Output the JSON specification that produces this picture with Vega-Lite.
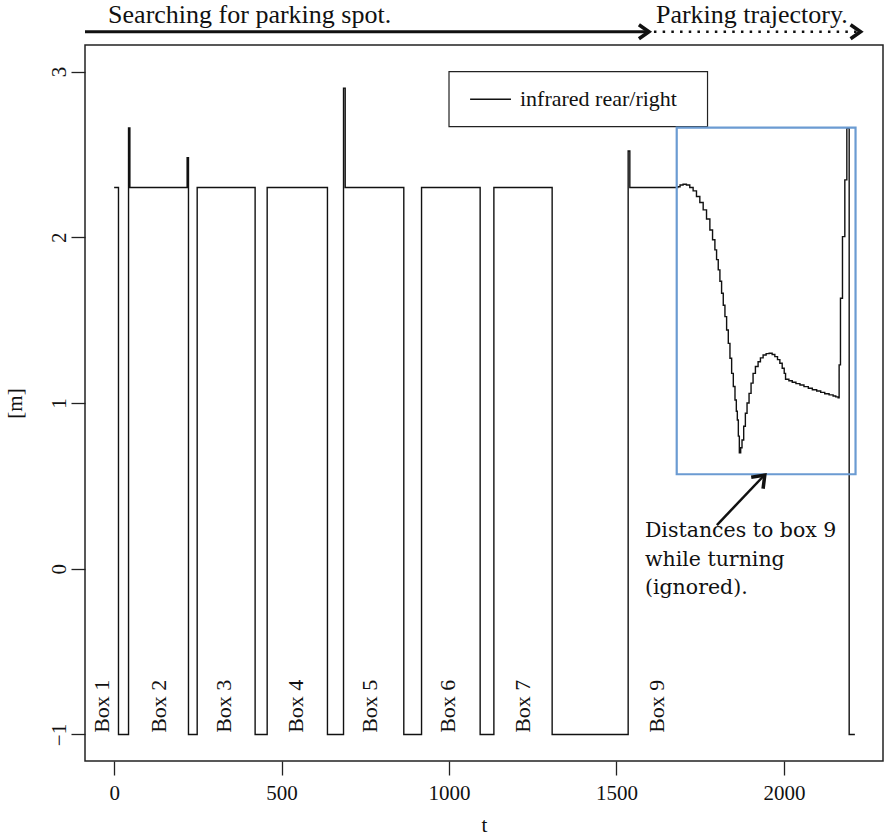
{
  "$schema": "https://vega.github.io/schema/vega-lite/v6.json",
  "width": 798,
  "height": 716,
  "autosize": {"type": "none"},
  "padding": {"left": 85, "top": 45, "right": 2, "bottom": 78},
  "background": "white",
  "config": {
    "view": {"stroke": "#222", "strokeWidth": 1.5},
    "axis": {
      "domain": false, "grid": false, "tickColor": "#222", "tickSize": 14, "tickWidth": 1.3,
      "labelFont": "Liberation Serif", "labelFontSize": 21, "labelColor": "#111", "labelFlush": false,
      "titleFont": "Liberation Serif", "titleFontSize": 21, "titleColor": "#111", "titleFontWeight": "normal"
    },
    "axisX": {"labelPadding": 7, "titleY": 70, "titleBaseline": "alphabetic"},
    "axisY": {"labelAngle": -90, "labelAlign": "center", "labelBaseline": "middle", "labelPadding": 12,
      "titleX": -70, "titleY": 358, "titleAngle": -90, "titleBaseline": "middle", "titleAlign": "center"}
  },
  "layer": [
    {
      "data": {"values": [
        {"t":0,"v":2.3},{"t":13,"v":-1},{"t":43,"v":2.66},{"t":47,"v":2.3},{"t":218,"v":2.48},{"t":222,"v":-1},
        {"t":248,"v":2.3},{"t":421,"v":-1},{"t":457,"v":2.3},{"t":637,"v":-1},{"t":685,"v":2.9},{"t":690,"v":2.3},
        {"t":865,"v":-1},{"t":918,"v":2.3},{"t":1093,"v":-1},{"t":1134,"v":2.3},{"t":1308,"v":-1},{"t":1535,"v":2.52},
        {"t":1540,"v":2.3},{"t":1683,"v":2.305},{"t":1690,"v":2.315},{"t":1699,"v":2.32},{"t":1709,"v":2.315},
        {"t":1719,"v":2.3},{"t":1729,"v":2.28},{"t":1739,"v":2.246},{"t":1749,"v":2.21},{"t":1759,"v":2.165},
        {"t":1769,"v":2.11},{"t":1779,"v":2.044},{"t":1787,"v":1.985},{"t":1794,"v":1.924},{"t":1799,"v":1.865},
        {"t":1804,"v":1.803},{"t":1809,"v":1.735},{"t":1814,"v":1.662},{"t":1819,"v":1.59},{"t":1824,"v":1.521},
        {"t":1829,"v":1.44},{"t":1834,"v":1.36},{"t":1839,"v":1.27},{"t":1844,"v":1.179},{"t":1849,"v":1.1},
        {"t":1854,"v":1.018},{"t":1858,"v":0.95},{"t":1861,"v":0.897},{"t":1864,"v":0.8},{"t":1867,"v":0.7},
        {"t":1871,"v":0.73},{"t":1875,"v":0.777},{"t":1880,"v":0.86},{"t":1885,"v":0.938},{"t":1890,"v":1.0},
        {"t":1896,"v":1.058},{"t":1902,"v":1.12},{"t":1908,"v":1.179},{"t":1915,"v":1.22},{"t":1923,"v":1.249},
        {"t":1930,"v":1.272},{"t":1938,"v":1.29},{"t":1947,"v":1.298},{"t":1956,"v":1.3},{"t":1965,"v":1.293},
        {"t":1973,"v":1.28},{"t":1981,"v":1.262},{"t":1988,"v":1.24},{"t":1995,"v":1.21},{"t":2001,"v":1.179},
        {"t":2005,"v":1.143},{"t":2015,"v":1.134},{"t":2025,"v":1.125},{"t":2036,"v":1.117},{"t":2048,"v":1.109},
        {"t":2060,"v":1.099},{"t":2073,"v":1.089},{"t":2085,"v":1.08},{"t":2098,"v":1.072},{"t":2110,"v":1.064},
        {"t":2122,"v":1.056},{"t":2135,"v":1.049},{"t":2147,"v":1.042},{"t":2155,"v":1.037},{"t":2162,"v":1.032},
        {"t":2165,"v":1.23},{"t":2169,"v":1.632},{"t":2175,"v":2.004},{"t":2182,"v":2.346},{"t":2188,"v":2.658},
        {"t":2195,"v":-1},{"t":2212,"v":-1}
      ]},
      "mark": {"type": "line", "interpolate": "step-after", "color": "#111", "strokeWidth": 1.4},
      "encoding": {
        "x": {"field": "t", "type": "quantitative", "sort": null,
          "scale": {"domain": [-87, 2296], "nice": false, "zero": false},
          "axis": {"values": [0, 500, 1000, 1500, 2000], "format": "d", "title": "t"}},
        "y": {"field": "v", "type": "quantitative",
          "scale": {"domain": [-1.16, 3.16], "nice": false, "zero": false},
          "axis": {"values": [-1, 0, 1, 2, 3], "format": "d", "title": "[m]"}}
      }
    },
    {
      "data": {"values": [{"t": 1000, "t2": 1772, "v": 2.999, "v2": 2.667}]},
      "mark": {"type": "rect", "fill": "white", "stroke": "#222", "strokeWidth": 1.2},
      "encoding": {
        "x": {"field": "t", "type": "quantitative"}, "x2": {"field": "t2"},
        "y": {"field": "v", "type": "quantitative"}, "y2": {"field": "v2"}
      }
    },
    {
      "data": {"values": [{"t": 1063, "t2": 1185, "v": 2.833}]},
      "mark": {"type": "rule", "color": "#111", "strokeWidth": 1.4},
      "encoding": {
        "x": {"field": "t", "type": "quantitative"}, "x2": {"field": "t2"},
        "y": {"field": "v", "type": "quantitative"}
      }
    },
    {
      "data": {"values": [{"t": 1212, "v": 2.833, "label": "infrared rear/right"}]},
      "mark": {"type": "text", "align": "left", "baseline": "middle", "font": "Liberation Serif", "fontSize": 22, "color": "#111"},
      "encoding": {
        "x": {"field": "t", "type": "quantitative"},
        "y": {"field": "v", "type": "quantitative"},
        "text": {"field": "label"}
      }
    },
    {
      "data": {"values": [{"t": 1680, "t2": 2214, "v": 2.662, "v2": 0.57}]},
      "mark": {"type": "rect", "fill": null, "fillOpacity": 0, "stroke": "#6b9bd2", "strokeWidth": 2.2},
      "encoding": {
        "x": {"field": "t", "type": "quantitative"}, "x2": {"field": "t2"},
        "y": {"field": "v", "type": "quantitative"}, "y2": {"field": "v2"}
      }
    },
    {
      "data": {"values": [
        {"t": -37, "v": -0.99, "label": "Box 1"}, {"t": 135, "v": -0.99, "label": "Box 2"},
        {"t": 329, "v": -0.99, "label": "Box 3"}, {"t": 543, "v": -0.99, "label": "Box 4"},
        {"t": 764, "v": -0.99, "label": "Box 5"}, {"t": 998, "v": -0.99, "label": "Box 6"},
        {"t": 1222, "v": -0.99, "label": "Box 7"}, {"t": 1620, "v": -0.99, "label": "Box 9"}
      ]},
      "mark": {"type": "text", "angle": 270, "align": "left", "baseline": "middle", "font": "Liberation Serif", "fontSize": 22, "color": "#111"},
      "encoding": {
        "x": {"field": "t", "type": "quantitative"},
        "y": {"field": "v", "type": "quantitative"},
        "text": {"field": "label"}
      }
    },
    {
      "data": {"values": [
        {"t": 1585, "v": 0.2275, "label": "Distances to box 9"},
        {"t": 1585, "v": 0.0555, "label": "while turning"},
        {"t": 1585, "v": -0.1165, "label": "(ignored)."}
      ]},
      "mark": {"type": "text", "align": "left", "baseline": "middle", "font": "DejaVu Serif", "fontSize": 20.5, "color": "#111"},
      "encoding": {
        "x": {"field": "t", "type": "quantitative"},
        "y": {"field": "v", "type": "quantitative"},
        "text": {"field": "label"}
      }
    },
    {
      "data": {"values": [{"t": 1800, "t2": 1940, "v": 0.2635, "v2": 0.561}]},
      "mark": {"type": "rule", "color": "#111", "strokeWidth": 2.5},
      "encoding": {
        "x": {"field": "t", "type": "quantitative"}, "x2": {"field": "t2"},
        "y": {"field": "v", "type": "quantitative"}, "y2": {"field": "v2"}
      }
    },
    {
      "data": {"values": [{"t": 1943, "v": 0.565}]},
      "mark": {"type": "point", "shape": "M-1,-0.75L0,0L-1,0.75", "filled": false, "stroke": "#111", "strokeWidth": 3.5, "strokeJoin": "miter", "size": 484, "angle": 314, "opacity": 1},
      "encoding": {
        "x": {"field": "t", "type": "quantitative"},
        "y": {"field": "v", "type": "quantitative"}
      }
    },
    {
      "data": {"values": [{"t": -87, "t2": 1594, "v": 3.24}]},
      "mark": {"type": "rule", "color": "#111", "strokeWidth": 3},
      "encoding": {
        "x": {"field": "t", "type": "quantitative"}, "x2": {"field": "t2"},
        "y": {"field": "v", "type": "quantitative"}
      }
    },
    {
      "data": {"values": [{"t": 1612, "t2": 2222, "v": 3.24}]},
      "mark": {"type": "rule", "color": "#111", "strokeWidth": 2.5, "strokeDash": [2.5, 6.2]},
      "encoding": {
        "x": {"field": "t", "type": "quantitative"}, "x2": {"field": "t2"},
        "y": {"field": "v", "type": "quantitative"}
      }
    },
    {
      "data": {"values": [{"t": 1597, "v": 3.24}, {"t": 2229, "v": 3.24}]},
      "mark": {"type": "point", "shape": "M-1,-0.7L0,0L-1,0.7", "filled": false, "stroke": "#111", "strokeWidth": 3.6, "strokeJoin": "miter", "size": 400, "opacity": 1},
      "encoding": {
        "x": {"field": "t", "type": "quantitative"},
        "y": {"field": "v", "type": "quantitative"}
      }
    },
    {
      "data": {"values": [
        {"t": -18, "v": 3.291, "label": "Searching for parking spot."},
        {"t": 1618, "v": 3.291, "label": "Parking trajectory."}
      ]},
      "mark": {"type": "text", "align": "left", "baseline": "alphabetic", "font": "Liberation Serif", "fontSize": 26, "color": "#111"},
      "encoding": {
        "x": {"field": "t", "type": "quantitative"},
        "y": {"field": "v", "type": "quantitative"},
        "text": {"field": "label"}
      }
    }
  ]
}
